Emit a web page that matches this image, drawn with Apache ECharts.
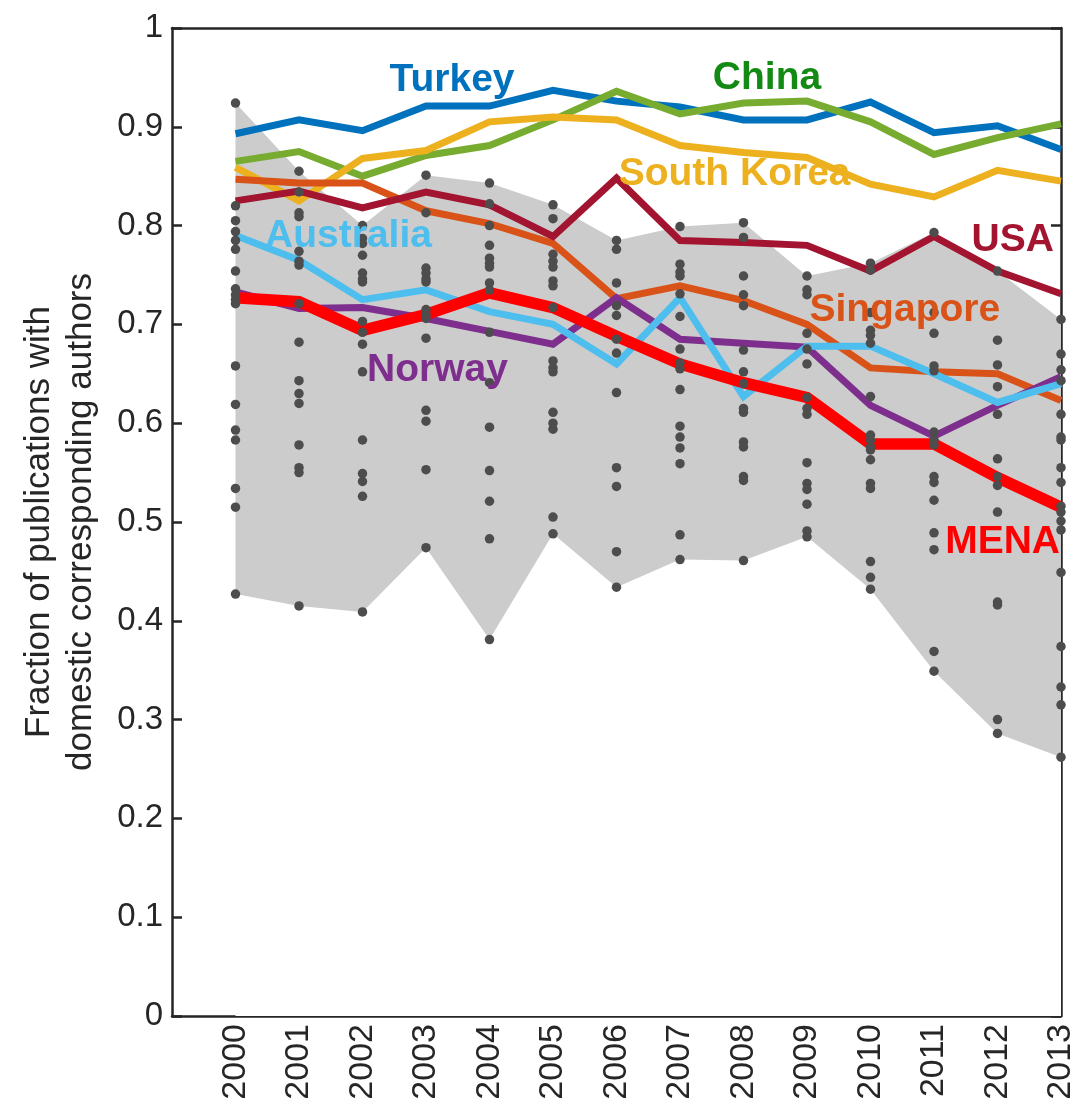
<!DOCTYPE html>
<html>
<head>
<meta charset="utf-8">
<script src="https://cdn.jsdelivr.net/npm/echarts@6/dist/echarts.min.js"></script>
<style>
html,body{margin:0;padding:0;background:#fff;}
#chart{width:1085px;height:1105px;}
</style>
</head>
<body>
<div id="chart"></div>
<script>
// ---- data ----
const years = [2000, 2001, 2002, 2003, 2004, 2005, 2006, 2007, 2008, 2009, 2010, 2011, 2012, 2013];

const turkey     = [0.893, 0.907, 0.896, 0.921, 0.921, 0.937, 0.926, 0.920, 0.907, 0.907, 0.925, 0.894, 0.901, 0.877];
const china      = [0.865, 0.875, 0.850, 0.871, 0.881, 0.907, 0.936, 0.913, 0.924, 0.926, 0.905, 0.872, 0.889, 0.903];
const southKorea = [0.859, 0.825, 0.868, 0.876, 0.905, 0.910, 0.907, 0.881, 0.874, 0.869, 0.842, 0.829, 0.856, 0.845];
const singapore  = [0.847, 0.843, 0.843, 0.815, 0.802, 0.782, 0.726, 0.739, 0.724, 0.700, 0.656, 0.652, 0.650, 0.623];
const usa        = [0.825, 0.835, 0.818, 0.834, 0.821, 0.789, 0.848, 0.785, 0.783, 0.780, 0.754, 0.789, 0.754, 0.731];
const australia  = [0.790, 0.765, 0.725, 0.735, 0.713, 0.700, 0.660, 0.727, 0.627, 0.678, 0.678, 0.650, 0.621, 0.640];
const norway     = [0.733, 0.716, 0.717, 0.706, 0.693, 0.680, 0.727, 0.685, 0.681, 0.677, 0.618, 0.587, 0.618, 0.647];
const mena       = [0.727, 0.723, 0.694, 0.710, 0.732, 0.717, 0.688, 0.660, 0.641, 0.626, 0.579, 0.579, 0.545, 0.515];

// envelope of the individual-country dots (grey band)
const bandUpper = [0.924, 0.855, 0.800, 0.851, 0.843, 0.821, 0.785, 0.799, 0.803, 0.749, 0.762, 0.793, 0.754, 0.705];
const bandLower = [0.427, 0.415, 0.409, 0.474, 0.381, 0.488, 0.434, 0.462, 0.461, 0.485, 0.432, 0.349, 0.286, 0.262];

// individual-country dots, one list per year
const dots2000 = [0.924, 0.820, 0.805, 0.794, 0.785, 0.776, 0.754, 0.736, 0.730, 0.725, 0.721, 0.658, 0.619, 0.593, 0.583, 0.534, 0.515, 0.427];
const dots2001 = [0.855, 0.834, 0.813, 0.809, 0.774, 0.764, 0.760, 0.721, 0.682, 0.643, 0.630, 0.620, 0.578, 0.555, 0.550, 0.415];
const dots2002 = [0.800, 0.787, 0.782, 0.770, 0.752, 0.746, 0.743, 0.703, 0.692, 0.680, 0.652, 0.583, 0.549, 0.541, 0.526, 0.409];
const dots2003 = [0.851, 0.813, 0.757, 0.752, 0.746, 0.743, 0.715, 0.710, 0.706, 0.686, 0.613, 0.602, 0.553, 0.474];
const dots2004 = [0.843, 0.822, 0.800, 0.780, 0.767, 0.762, 0.758, 0.742, 0.735, 0.692, 0.641, 0.596, 0.552, 0.521, 0.483, 0.381];
const dots2005 = [0.821, 0.807, 0.771, 0.764, 0.758, 0.744, 0.739, 0.717, 0.663, 0.656, 0.652, 0.611, 0.600, 0.594, 0.505, 0.488];
const dots2006 = [0.785, 0.776, 0.742, 0.719, 0.709, 0.685, 0.671, 0.631, 0.555, 0.536, 0.470, 0.434];
const dots2007 = [0.799, 0.761, 0.753, 0.749, 0.731, 0.708, 0.675, 0.661, 0.655, 0.634, 0.597, 0.586, 0.575, 0.559, 0.487, 0.462];
const dots2008 = [0.803, 0.788, 0.749, 0.730, 0.719, 0.674, 0.652, 0.640, 0.615, 0.611, 0.581, 0.576, 0.546, 0.542, 0.461];
const dots2009 = [0.749, 0.735, 0.730, 0.691, 0.675, 0.660, 0.626, 0.615, 0.609, 0.560, 0.539, 0.533, 0.518, 0.491, 0.485];
const dots2010 = [0.762, 0.755, 0.712, 0.694, 0.689, 0.681, 0.627, 0.588, 0.583, 0.576, 0.573, 0.563, 0.539, 0.534, 0.460, 0.444, 0.432];
const dots2011 = [0.793, 0.712, 0.691, 0.658, 0.653, 0.591, 0.583, 0.578, 0.546, 0.540, 0.522, 0.489, 0.472, 0.369, 0.349];
const dots2012 = [0.754, 0.684, 0.659, 0.637, 0.609, 0.564, 0.546, 0.537, 0.510, 0.419, 0.416, 0.300, 0.286];
const dots2013 = [0.705, 0.670, 0.654, 0.643, 0.609, 0.586, 0.583, 0.555, 0.540, 0.516, 0.510, 0.501, 0.492, 0.449, 0.374, 0.333, 0.315, 0.262];
const dotsByYear = [dots2000, dots2001, dots2002, dots2003, dots2004, dots2005, dots2006,
                    dots2007, dots2008, dots2009, dots2010, dots2011, dots2012, dots2013];

// in-plot country labels: text, year position, value position
const labelNames = ['Turkey', 'China', 'South Korea', 'USA', 'Australia', 'Singapore', 'Norway', 'MENA'];
const labelX     = [2003.41, 2008.37, 2007.86, 2012.24, 2001.78, 2010.54, 2003.18, 2012.08];
const labelY     = [0.947, 0.949, 0.852, 0.785, 0.789, 0.7146, 0.654, 0.480];

// ---- styling ----
const FONT = 'Liberation Sans, Arial, Helvetica, sans-serif';
const AXIS_COLOR = '#262626';
const colors = {
  Turkey: '#0072BD', China: '#77AC30', 'South Korea': '#EDB120', Singapore: '#D95319',
  USA: '#A2142F', Australia: '#4DBEEE', Norway: '#7E2F8E', MENA: '#FF0000'
};
const labelColors = {
  Turkey: '#0072BD', China: '#138A13', 'South Korea': '#EDB120', Singapore: '#D95319',
  USA: '#A2142F', Australia: '#4DBEEE', Norway: '#7E2F8E', MENA: '#FF0000'
};

function pairs(vals) { return years.map((y, i) => [y, vals[i]]); }

const dotData = [];
dotsByYear.forEach((arr, i) => arr.forEach(v => dotData.push([years[i], v])));

function lineSeries(name, vals, width, z) {
  return {
    name: name, type: 'line', data: pairs(vals), symbol: 'none', z: z,
    lineStyle: { color: colors[name], width: width, join: 'miter', opacity: 1 },
    itemStyle: { color: colors[name] }, silent: true, animation: false
  };
}

const chart = echarts.init(document.getElementById('chart'), null, { renderer: 'canvas' });

const option = {
  backgroundColor: '#fff',
  animation: false,
  grid: { left: 172, right: 24, top: 28, bottom: 89, containLabel: false },
  xAxis: [{
    type: 'value', min: 1999, max: 2013, interval: 1, position: 'bottom',
    axisLine: { show: true, onZero: false, lineStyle: { color: AXIS_COLOR, width: 2.5 } },
    axisTick: { show: false },
    splitLine: { show: false },
    axisLabel: {
      rotate: 90, margin: 8, fontSize: 34, color: AXIS_COLOR, fontFamily: FONT,
      formatter: v => (v < 2000 ? '' : String(v))
    }
  }, {
    type: 'value', min: 1999, max: 2013, interval: 1, position: 'top',
    axisLine: { show: true, onZero: false, lineStyle: { color: AXIS_COLOR, width: 2.5 } },
    axisTick: { show: false }, axisLabel: { show: false }, splitLine: { show: false }
  }],
  yAxis: [{
    type: 'value', min: 0, max: 1, interval: 0.1, position: 'left',
    name: 'Fraction of publications with\ndomestic corresponding authors',
    nameLocation: 'middle', nameGap: 70, nameRotate: 90,
    nameTextStyle: { fontSize: 35, color: AXIS_COLOR, fontFamily: FONT, lineHeight: 42 },
    axisLine: { show: true, onZero: false, lineStyle: { color: AXIS_COLOR, width: 2.5 } },
    axisTick: { show: true, inside: true, length: 10, lineStyle: { color: AXIS_COLOR, width: 2.5 } },
    splitLine: { show: false },
    axisLabel: { fontSize: 33, color: AXIS_COLOR, fontFamily: FONT, margin: 9 }
  }, {
    type: 'value', min: 0, max: 1, interval: 0.1, position: 'right',
    axisLine: { show: true, onZero: false, lineStyle: { color: AXIS_COLOR, width: 2.5 } },
    axisTick: { show: true, inside: true, length: 10, lineStyle: { color: AXIS_COLOR, width: 2.5 } },
    axisLabel: { show: false }, splitLine: { show: false }
  }],
  series: [
    { name: 'band', type: 'custom', z: 1, silent: true,
      data: years.map((y, i) => [y, bandLower[i], bandUpper[i]]),
      encode: { x: 0, y: [1, 2] },
      renderItem: function (params, api) {
        if (params.dataIndex !== 0) return null;
        const grey = [], white = [];
        for (let i = 0; i < years.length; i++) grey.push(api.coord([years[i], bandUpper[i]]));
        for (let i = years.length - 1; i >= 0; i--) grey.push(api.coord([years[i], bandLower[i]]));
        // white backing below the band (as in the original figure, it masks part of the axes)
        for (let i = 0; i < years.length; i++) white.push(api.coord([years[i], bandLower[i]]));
        white.push(api.coord([years[years.length - 1], 0]));
        white.push(api.coord([years[0], 0]));
        return { type: 'group', children: [
          { type: 'polygon', shape: { points: white }, style: { fill: '#ffffff', stroke: null } },
          { type: 'polygon', shape: { points: grey }, style: { fill: '#cccccc', stroke: null } }
        ] };
      }
    },
    lineSeries('Turkey', turkey, 7, 3),
    lineSeries('China', china, 7, 3),
    lineSeries('South Korea', southKorea, 7, 3),
    lineSeries('Singapore', singapore, 7, 3),
    lineSeries('USA', usa, 7, 3),
    lineSeries('Norway', norway, 7, 3),
    lineSeries('Australia', australia, 7, 3),
    lineSeries('MENA', mena, 11.5, 3),
    { name: 'dots', type: 'scatter', data: dotData, symbol: 'circle', symbolSize: 9.5, z: 4,
      itemStyle: { color: '#4d4d4d', opacity: 1 }, silent: true },
    { name: 'labels', type: 'scatter', z: 5, symbol: 'circle', symbolSize: 1, silent: true,
      itemStyle: { color: 'rgba(255,255,255,0)', opacity: 1 },
      data: labelNames.map((n, i) => ({
        name: n, value: [labelX[i], labelY[i]],
        label: { show: true, position: 'inside', formatter: n, color: labelColors[n], opacity: 1,
                 fontSize: 39, fontWeight: 'bold', fontFamily: FONT }
      }))
    }
  ]
};
chart.setOption(option);
</script>
</body>
</html>
